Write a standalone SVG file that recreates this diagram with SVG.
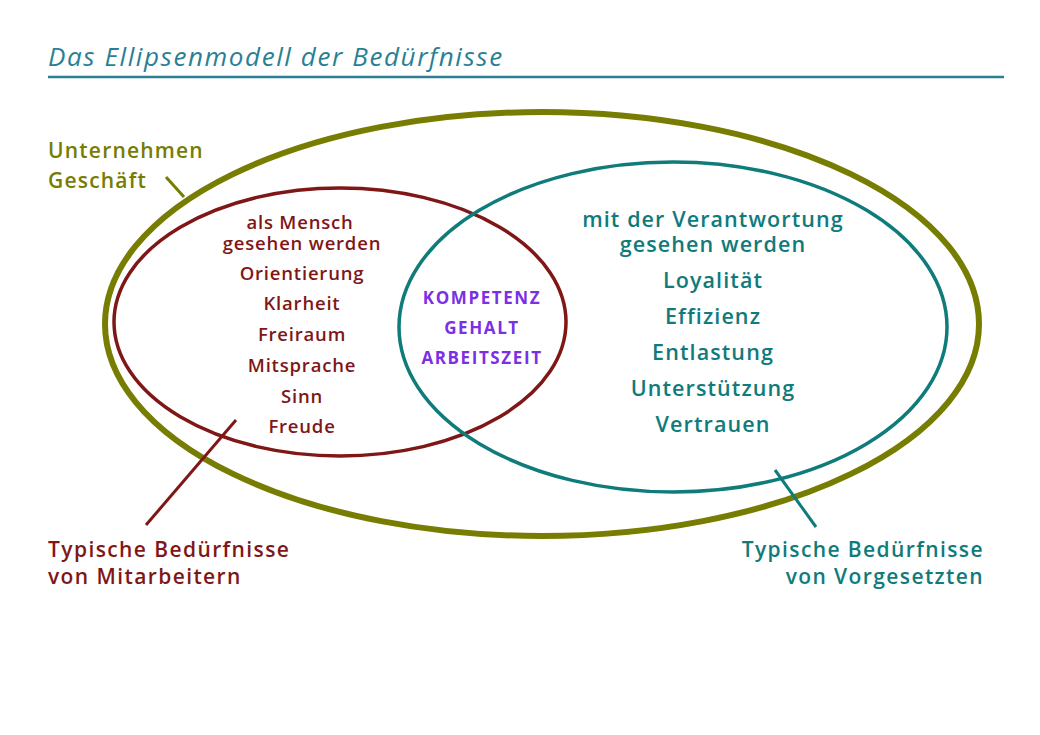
<svg xmlns="http://www.w3.org/2000/svg" width="1040" height="735" viewBox="0 0 1040 735">
<style>
text{font-family:"Open Sans","DejaVu Sans",sans-serif;font-weight:600;letter-spacing:0.8px}
.r{fill:#7f1717;font-size:18.5px;text-anchor:middle}
.t{fill:#0f7b7b;font-size:21.5px;text-anchor:middle;letter-spacing:1.1px}
.p{fill:#7b2fe6;font-size:17px;font-weight:700;text-anchor:middle;letter-spacing:1.6px}
.o{fill:#767d00;font-size:21px;letter-spacing:1.2px}
.rl{fill:#7f1717;font-size:21px;letter-spacing:1.4px}
.tl{fill:#0f7b7b;font-size:21px;letter-spacing:1.4px;text-anchor:end}
</style>
<rect width="1040" height="735" fill="#fff"/>
<g id="title">
<text x="48" y="66" style="font-style:italic;font-weight:500;font-size:26px;letter-spacing:1.6px;fill:#2a7f95">Das Ellipsenmodell der Bedürfnisse</text>
<line x1="48" y1="77" x2="1004" y2="77" stroke="#2a7f95" stroke-width="2.5"/>
</g>
<g id="outer"><ellipse cx="542" cy="324" rx="437" ry="212" fill="none" stroke="#767d00" stroke-width="6"/></g>
<g id="mitarbeiter"><ellipse cx="340" cy="322" rx="226" ry="134" fill="none" stroke="#7f1717" stroke-width="3.5"/>
<text class="r" x="300" y="229">als Mensch</text><text class="r" x="302" y="250">gesehen werden</text>
<text class="r" x="302" y="280">Orientierung</text><text class="r" x="302" y="310">Klarheit</text>
<text class="r" x="302" y="341">Freiraum</text><text class="r" x="302" y="372">Mitsprache</text>
<text class="r" x="302" y="403">Sinn</text><text class="r" x="302" y="433">Freude</text></g>
<g id="vorgesetzte"><ellipse cx="673" cy="327" rx="274" ry="165" fill="none" stroke="#0f7b7b" stroke-width="3.5"/>
<text class="t" x="713" y="227">mit der Verantwortung</text><text class="t" x="713" y="252">gesehen werden</text>
<text class="t" x="713" y="288">Loyalität</text><text class="t" x="713" y="324">Effizienz</text>
<text class="t" x="713" y="360">Entlastung</text><text class="t" x="713" y="396">Unterstützung</text>
<text class="t" x="713" y="432">Vertrauen</text></g>
<g id="schnitt"><text class="p" x="482" y="304">KOMPETENZ</text><text class="p" x="482" y="334">GEHALT</text><text class="p" x="482" y="364">ARBEITSZEIT</text></g>
<g id="labels">
<text class="o" x="48" y="158">Unternehmen</text><text class="o" x="48" y="188">Geschäft</text>
<text class="rl" x="48" y="557">Typische Bedürfnisse</text><text class="rl" x="48" y="584">von Mitarbeitern</text>
<text class="tl" x="984" y="557">Typische Bedürfnisse</text><text class="tl" x="984" y="584">von Vorgesetzten</text>
</g>
<g id="connectors" stroke-width="3">
<line x1="166" y1="177" x2="184" y2="197" stroke="#767d00"/>
<line x1="236" y1="420" x2="146" y2="525" stroke="#7f1717"/>
<line x1="775" y1="470" x2="816" y2="527" stroke="#0f7b7b"/>
</g>
</svg>
